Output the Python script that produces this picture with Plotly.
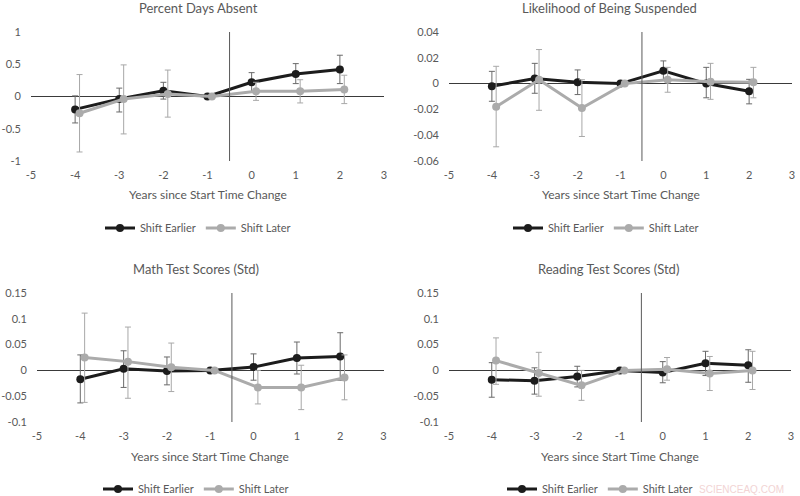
import plotly.graph_objects as go

# ---------------- data ----------------
years = [-4, -3, -2, -1, 0, 1, 2]
x_tick_vals = [-5, -4, -3, -2, -1, 0, 1, 2, 3]
x_tick_text = ["-5", "-4", "-3", "-2", "-1", "0", "1", "2", "3"]
series_names = ["Shift Earlier", "Shift Later"]
x_title = "Years since Start Time Change"
LATER_OFFSET = 0.1      # Excel draws the second series slightly to the right
TREATMENT_X = -0.5      # vertical reference line

# Panel 1: Percent Days Absent
absent_title = "Percent Days Absent"
absent_earlier = [-0.20, -0.04, 0.09, 0.0, 0.22, 0.35, 0.42]
absent_earlier_hi = [0.01, 0.13, 0.22, 0.0, 0.37, 0.51, 0.64]
absent_earlier_lo = [-0.41, -0.24, -0.04, 0.0, 0.07, 0.20, 0.20]
absent_later = [-0.26, -0.04, 0.04, 0.0, 0.08, 0.08, 0.11]
absent_later_hi = [0.34, 0.49, 0.41, 0.0, 0.22, 0.26, 0.33]
absent_later_lo = [-0.86, -0.58, -0.32, 0.0, -0.06, -0.10, -0.11]
absent_yticks = [-1, -0.5, 0, 0.5, 1]
absent_yticktext = ["-1", "-0.5", "0", "0.5", "1"]

# Panel 2: Likelihood of Being Suspended
susp_title = "Likelihood of Being Suspended"
susp_earlier = [-0.002, 0.004, 0.001, 0.0, 0.010, 0.000, -0.006]
susp_earlier_hi = [0.0095, 0.0157, 0.0106, 0.0, 0.0176, 0.0126, 0.0033]
susp_earlier_lo = [-0.0137, -0.0075, -0.0085, 0.0, 0.0026, -0.011, -0.0157]
susp_later = [-0.018, 0.003, -0.019, 0.0, 0.003, 0.0015, 0.001]
susp_later_hi = [0.0134, 0.0264, 0.003, 0.0, 0.0126, 0.0157, 0.0126]
susp_later_lo = [-0.049, -0.0207, -0.041, 0.0, -0.0067, -0.0122, -0.011]
susp_yticks = [-0.06, -0.04, -0.02, 0, 0.02, 0.04]
susp_yticktext = ["-0.06", "-0.04", "-0.02", "0", "0.02", "0.04"]

# Panel 3: Math Test Scores (Std)
math_title = "Math Test Scores (Std)"
math_earlier = [-0.017, 0.003, -0.001, 0.0, 0.0065, 0.024, 0.027]
math_earlier_hi = [0.030, 0.038, 0.026, 0.0, 0.032, 0.055, 0.073]
math_earlier_lo = [-0.063, -0.033, -0.028, 0.0, -0.019, -0.007, -0.019]
math_later = [0.025, 0.017, 0.006, 0.0, -0.033, -0.033, -0.014]
math_later_hi = [0.111, 0.084, 0.053, 0.0, 0.0, 0.010, 0.030]
math_later_lo = [-0.062, -0.054, -0.041, 0.0, -0.065, -0.076, -0.057]
score_yticks = [-0.1, -0.05, 0, 0.05, 0.1, 0.15]
score_yticktext = ["-0.1", "-0.05", "0", "0.05", "0.1", "0.15"]

# Panel 4: Reading Test Scores (Std)
read_title = "Reading Test Scores (Std)"
read_earlier = [-0.018, -0.020, -0.012, 0.0, -0.004, 0.014, 0.010]
read_earlier_hi = [0.015, 0.005, 0.008, 0.0, 0.017, 0.037, 0.040]
read_earlier_lo = [-0.052, -0.046, -0.032, 0.0, -0.024, -0.010, -0.023]
read_later = [0.019, -0.005, -0.029, 0.0, 0.002, -0.006, 0.0]
read_later_hi = [0.063, 0.035, 0.000, 0.0, 0.025, 0.027, 0.037]
read_later_lo = [-0.027, -0.050, -0.058, 0.0, -0.019, -0.039, -0.037]

watermark_text = "SCIENCEAQ.COM"

# ---------------- styling / layout ----------------
FONT = "Lato"
TEXT = "#595959"
C_EARLY = "#1c1c1c"
C_LATE = "#ababab"
C_EARLY_ERR = "#6a6a6a"
C_LATE_ERR = "#a8a8a8"
W, H = 800, 496

panels = [
    dict(title=absent_title, e=absent_earlier, ehi=absent_earlier_hi, elo=absent_earlier_lo,
         l=absent_later, lhi=absent_later_hi, llo=absent_later_lo,
         yr=[-1, 1], yt=absent_yticks, ytt=absent_yticktext,
         xd=[31, 384], yd=[32, 161], tx=198, ty=8, lx=198, ly=228, ay=194),
    dict(title=susp_title, e=susp_earlier, ehi=susp_earlier_hi, elo=susp_earlier_lo,
         l=susp_later, lhi=susp_later_hi, llo=susp_later_lo,
         yr=[-0.06, 0.04], yt=susp_yticks, ytt=susp_yticktext,
         xd=[449, 792], yd=[32, 161], tx=609, ty=8, lx=606, ly=228, ay=194),
    dict(title=math_title, e=math_earlier, ehi=math_earlier_hi, elo=math_earlier_lo,
         l=math_later, lhi=math_later_hi, llo=math_later_lo,
         yr=[-0.1, 0.15], yt=score_yticks, ytt=score_yticktext,
         xd=[37, 383.5], yd=[293, 422], tx=196, ty=269, lx=196, ly=489, ay=456),
    dict(title=read_title, e=read_earlier, ehi=read_earlier_hi, elo=read_earlier_lo,
         l=read_later, lhi=read_later_hi, llo=read_later_lo,
         yr=[-0.1, 0.15], yt=score_yticks, ytt=score_yticktext,
         xd=[449, 791], yd=[293, 422], tx=608, ty=269, lx=600, ly=489, ay=456),
]

fig = go.Figure()
layout = dict(
    width=W, height=H,
    margin=dict(l=0, r=0, t=0, b=0, pad=0, autoexpand=False),
    paper_bgcolor="white", plot_bgcolor="white",
    font=dict(family=FONT, color=TEXT, size=11),
    annotations=[], shapes=[],
)

later_x = [v + LATER_OFFSET for v in years]

for i, p in enumerate(panels):
    n = "" if i == 0 else str(i + 1)
    xa, ya = "x" + n, "y" + n
    lg = "legend" + n

    plus_e = [hi - v for hi, v in zip(p["ehi"], p["e"])]
    minus_e = [v - lo for v, lo in zip(p["e"], p["elo"])]
    plus_l = [hi - v for hi, v in zip(p["lhi"], p["l"])]
    minus_l = [v - lo for v, lo in zip(p["l"], p["llo"])]

    fig.add_trace(go.Scatter(
        x=years, y=p["e"], name=series_names[0], mode="lines+markers",
        line=dict(color=C_EARLY, width=3), marker=dict(color=C_EARLY, size=8),
        error_y=dict(type="data", symmetric=False, array=plus_e, arrayminus=minus_e,
                     color=C_EARLY_ERR, thickness=1, width=3),
        xaxis=xa, yaxis=ya, legend=lg, showlegend=True))
    fig.add_trace(go.Scatter(
        x=later_x, y=p["l"], name=series_names[1], mode="lines+markers",
        line=dict(color=C_LATE, width=3), marker=dict(color=C_LATE, size=8),
        error_y=dict(type="data", symmetric=False, array=plus_l, arrayminus=minus_l,
                     color=C_LATE_ERR, thickness=1, width=3),
        xaxis=xa, yaxis=ya, legend=lg, showlegend=True))

    layout["xaxis" + n] = dict(
        domain=[p["xd"][0] / W, p["xd"][1] / W], anchor=ya, range=[-5, 3],
        tickvals=x_tick_vals, ticktext=x_tick_text, automargin=False,
        showgrid=False, zeroline=False, showline=False, ticks="",
        tickfont=dict(size=11, color=TEXT), ticklabelstandoff=6)
    layout["yaxis" + n] = dict(
        domain=[1 - p["yd"][1] / H, 1 - p["yd"][0] / H], anchor=xa, range=p["yr"],
        tickvals=p["yt"], ticktext=p["ytt"], automargin=False,
        showgrid=False, zeroline=True, zerolinecolor="#3a3a3a", zerolinewidth=1,
        showline=False, ticks="", tickfont=dict(size=11, color=TEXT),
        ticklabelstandoff=9)

    layout["shapes"].append(dict(
        type="line", xref=xa, yref=ya + " domain", x0=TREATMENT_X, x1=TREATMENT_X,
        y0=0, y1=1, line=dict(color="#5a5a5a", width=1)))

    layout["annotations"].append(dict(
        text=p["title"], xref="paper", yref="paper", x=p["tx"] / W, y=1 - p["ty"] / H,
        xanchor="center", yanchor="middle", showarrow=False,
        font=dict(size=13, color=TEXT, family=FONT)))
    layout["annotations"].append(dict(
        text=x_title, xref="paper", yref="paper",
        x=(p["xd"][0] + p["xd"][1]) / 2 / W, y=1 - p["ay"] / H,
        xanchor="center", yanchor="middle", showarrow=False,
        font=dict(size=12, color=TEXT, family=FONT)))

    layout[lg] = dict(
        orientation="h", x=p["lx"] / W, y=1 - p["ly"] / H,
        xanchor="center", yanchor="middle", bgcolor="rgba(0,0,0,0)",
        font=dict(size=11, color=TEXT, family=FONT), itemwidth=30,
        traceorder="normal")

layout["annotations"].append(dict(
    text=watermark_text, xref="paper", yref="paper", x=786 / W, y=1 - 489 / H,
    xanchor="right", yanchor="middle", showarrow=False,
    font=dict(size=10, color="#f2d4d4", family="Liberation Sans")))

fig.update_layout(**layout)
fig.write_html(
    "out.html",
    config={"displayModeBar": False},
    post_script="document.body.style.margin='0';document.body.style.overflow='hidden';",
)
